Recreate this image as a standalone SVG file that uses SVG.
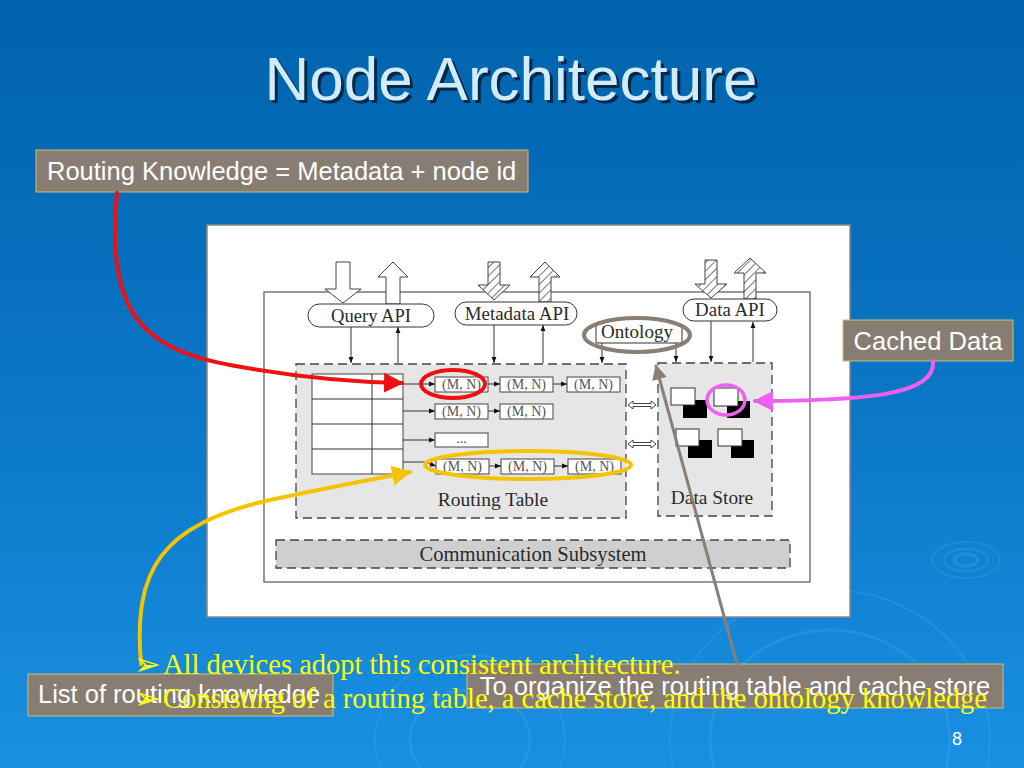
<svg xmlns="http://www.w3.org/2000/svg" width="1024" height="768" viewBox="0 0 1024 768">
<defs>
<linearGradient id="bg" x1="0" y1="0" x2="0" y2="1">
<stop offset="0" stop-color="#0062ac"/>
<stop offset="0.55" stop-color="#0b78c8"/>
<stop offset="1" stop-color="#1a90e2"/>
</linearGradient>
<pattern id="hatch" width="6" height="6" patternUnits="userSpaceOnUse" patternTransform="rotate(45)">
<rect width="6" height="6" fill="#fff"/>
<line x1="0" y1="0" x2="0" y2="6" stroke="#555" stroke-width="1.6"/>
</pattern>
<marker id="ah" viewBox="0 0 10 10" refX="10" refY="5" markerWidth="6" markerHeight="6" orient="auto" markerUnits="userSpaceOnUse">
<path d="M0,1 L10,5 L0,9 z" fill="#111"/>
</marker>
<marker id="ahRed" viewBox="0 0 10 10" refX="9" refY="5" markerWidth="5" markerHeight="5" orient="auto">
<path d="M0,0 L10,5 L0,10 z" fill="#ee1111"/>
</marker>
<marker id="ahYel" viewBox="0 0 10 10" refX="9" refY="5" markerWidth="5" markerHeight="5" orient="auto">
<path d="M0,0 L10,5 L0,10 z" fill="#f5c400"/>
</marker>
<marker id="ahPink" viewBox="0 0 10 10" refX="9" refY="5" markerWidth="5" markerHeight="5" orient="auto">
<path d="M0,0 L10,5 L0,10 z" fill="#f060f0"/>
</marker>
<marker id="ahGray" viewBox="0 0 10 10" refX="9" refY="5" markerWidth="5" markerHeight="5" orient="auto">
<path d="M0,0 L10,5 L0,10 z" fill="#8a7f74"/>
</marker>
<style>
.lbl{fill:#877d73;stroke:#c8c070;stroke-width:1}
.lt{font-family:"Liberation Sans",Arial,sans-serif;font-size:25.5px;fill:#fff}
.dt{font-family:"Liberation Serif","Times New Roman",serif;fill:#2a2a2a}
.mn{font-family:"Liberation Serif","Times New Roman",serif;font-size:14px;fill:#555}
.box{fill:#fff;stroke:#444;stroke-width:1}
.ln{stroke:#333;stroke-width:1;fill:none}
.dash{stroke:#444;stroke-width:1.3;stroke-dasharray:9,5}
.pill{fill:#fff;stroke:#333;stroke-width:1}
.bul{font-family:"Liberation Serif","Times New Roman",serif;font-size:28.5px;fill:#ffff00}
.bg{font-family:"DejaVu Sans",sans-serif;font-size:32px;fill:#ffff00}
.blk{fill:#000}
.wh{fill:#fff;stroke:#333;stroke-width:1}
.rip{fill:none;stroke:#3aa6ee;stroke-opacity:0.35}
</style>
</defs>
<rect width="1024" height="768" fill="url(#bg)"/>
<!-- ripples -->
<g id="ripples">
<ellipse class="rip" cx="966" cy="560" rx="12" ry="6" stroke-width="3"/>
<ellipse class="rip" cx="966" cy="560" rx="22" ry="11" stroke-width="2"/>
<ellipse class="rip" cx="966" cy="560" rx="34" ry="18" stroke-width="1.5"/>
<ellipse class="rip" cx="830" cy="740" rx="120" ry="110" stroke-width="3"/>
<ellipse class="rip" cx="830" cy="740" rx="160" ry="150" stroke-width="2"/>
<ellipse class="rip" cx="470" cy="740" rx="60" ry="50" stroke-width="3"/>
<ellipse class="rip" cx="470" cy="740" rx="95" ry="85" stroke-width="2"/>
</g>
<!-- title -->
<text x="514" y="103" text-anchor="middle" font-family="Liberation Sans,Arial,sans-serif" font-size="62" fill="#062848">Node Architecture</text>
<text x="511" y="100" text-anchor="middle" font-family="Liberation Sans,Arial,sans-serif" font-size="62" fill="#d2ecff">Node Architecture</text>

<!-- diagram panel -->
<g id="panel">
<rect x="207" y="225" width="643" height="392" fill="#fff" stroke="#888" stroke-width="1.5"/>
<rect x="264" y="292" width="546" height="290" fill="none" stroke="#555" stroke-width="1.2"/>
</g>

<!-- big I/O arrows -->
<g id="io-arrows" stroke="#444" stroke-width="1">
<path d="M336,262 H350 V289 H361 L343,303 L325,289 H336 Z" fill="#fff"/>
<path d="M386,304 V277 H378 L393,262 L408,277 H400 V304 Z" fill="#fff"/>
<path d="M488,262 H500 V285 H510 L494,300 L478,285 H488 Z" fill="url(#hatch)"/>
<path d="M539,302 V277 H530 L545,262 L560,277 H551 V302 Z" fill="url(#hatch)"/>
<path d="M705,260 H717 V284 H727 L711,298 L695,284 H705 Z" fill="url(#hatch)"/>
<path d="M744,299 V273 H734 L750,258 L766,273 H756 V299 Z" fill="url(#hatch)"/>
</g>

<!-- APIs -->
<g id="query-api">
<rect class="pill" x="308" y="304" width="126" height="23" rx="11.5"/>
<text class="dt" x="371" y="322" font-size="18.6" text-anchor="middle">Query API</text>
</g>
<g id="metadata-api">
<rect class="pill" x="455" y="302" width="122" height="23" rx="11.5"/>
<text class="dt" x="517" y="320" font-size="18.9" text-anchor="middle">Metadata API</text>
</g>
<g id="data-api">
<rect class="pill" x="683" y="299" width="94" height="22" rx="11"/>
<text class="dt" x="730" y="316" font-size="18.9" text-anchor="middle">Data API</text>
</g>
<g id="ontology">
<path class="ln" d="M596,324 V343 M596,343 H682 M682,324 V343" stroke="#444"/>
<text class="dt" x="637" y="338" font-size="19" text-anchor="middle">Ontology</text>
</g>

<!-- routing table -->
<g id="routing-table">
<rect x="296" y="364" width="330" height="154" fill="#e6e6e6" class="dash"/>
<rect class="box" x="312" y="374" width="91" height="100"/>
<path class="ln" d="M372,374 V474 M312,399 H403 M312,424 H403 M312,449 H403"/>
<text class="dt" x="493" y="506" font-size="19.5" text-anchor="middle">Routing Table</text>
<rect class="box" x="435" y="377" width="53" height="15"/><text class="mn" x="461.5" y="389" text-anchor="middle">(M, N)</text>
<rect class="box" x="500" y="377" width="53" height="15"/><text class="mn" x="526.5" y="389" text-anchor="middle">(M, N)</text>
<rect class="box" x="567" y="377" width="53" height="15"/><text class="mn" x="593.5" y="389" text-anchor="middle">(M, N)</text>
<rect class="box" x="435" y="404" width="53" height="15"/><text class="mn" x="461.5" y="416" text-anchor="middle">(M, N)</text>
<rect class="box" x="500" y="404" width="53" height="15"/><text class="mn" x="526.5" y="416" text-anchor="middle">(M, N)</text>
<rect class="box" x="435" y="433" width="53" height="14"/><text class="mn" x="461.5" y="443" text-anchor="middle" font-size="11">...</text>
<rect class="box" x="436" y="459" width="53" height="15"/><text class="mn" x="462.5" y="471" text-anchor="middle">(M, N)</text>
<rect class="box" x="501" y="459" width="53" height="15"/><text class="mn" x="527.5" y="471" text-anchor="middle">(M, N)</text>
<rect class="box" x="568" y="459" width="53" height="15"/><text class="mn" x="594.5" y="471" text-anchor="middle">(M, N)</text>
</g>

<!-- data store -->
<g id="data-store">
<rect x="658" y="363" width="114" height="153" fill="#e6e6e6" class="dash"/>
<rect class="blk" x="683" y="400" width="24" height="18"/><rect class="wh" x="671" y="388" width="24" height="17"/>
<rect class="blk" x="727" y="401" width="23" height="17"/><rect class="wh" x="714" y="388" width="24" height="18"/>
<rect class="blk" x="688" y="440" width="24" height="18"/><rect class="wh" x="676" y="429" width="23" height="17"/>
<rect class="blk" x="731" y="440" width="23" height="18"/><rect class="wh" x="718" y="429" width="24" height="17"/>
<text class="dt" x="712" y="504" font-size="19.4" text-anchor="middle">Data Store</text>
</g>

<!-- communication subsystem -->
<g id="comm">
<rect x="276" y="540" width="514" height="28" fill="#cfcfcf" class="dash"/>
<text class="dt" x="533" y="561" font-size="20.6" text-anchor="middle">Communication Subsystem</text>
</g>

<!-- internal connectors -->
<g id="connectors" class="ln">
<line x1="351" y1="327" x2="351" y2="363" marker-end="url(#ah)"/>
<line x1="398" y1="363" x2="398" y2="327" marker-end="url(#ah)"/>
<line x1="494" y1="325" x2="494" y2="363" marker-end="url(#ah)"/>
<line x1="543" y1="363" x2="543" y2="325" marker-end="url(#ah)"/>
<line x1="711" y1="321" x2="711" y2="362" marker-end="url(#ah)"/>
<line x1="753" y1="362" x2="753" y2="322" marker-end="url(#ah)"/>
<line x1="602" y1="343" x2="602" y2="363" marker-end="url(#ah)"/>
<line x1="676" y1="343" x2="676" y2="362" marker-end="url(#ah)"/>
<line x1="403" y1="384" x2="435" y2="384" marker-end="url(#ah)"/>
<line x1="488" y1="384" x2="500" y2="384" marker-end="url(#ah)"/>
<line x1="553" y1="384" x2="567" y2="384" marker-end="url(#ah)"/>
<line x1="403" y1="411" x2="435" y2="411" marker-end="url(#ah)"/>
<line x1="488" y1="411" x2="500" y2="411" marker-end="url(#ah)"/>
<line x1="403" y1="440" x2="435" y2="440" marker-end="url(#ah)"/>
<path d="M403,462 H424 L436,466" marker-end="url(#ah)"/>
<line x1="489" y1="466" x2="501" y2="466" marker-end="url(#ah)"/>
<line x1="554" y1="466" x2="568" y2="466" marker-end="url(#ah)"/>
<path d="M628,405 l5,-4 v2.5 h18 v-2.5 l5,4 l-5,4 v-2.5 h-18 v2.5 z" fill="#fff" stroke="#444"/>
<path d="M628,444 l5,-4 v2.5 h18 v-2.5 l5,4 l-5,4 v-2.5 h-18 v2.5 z" fill="#fff" stroke="#444"/>
</g>

<!-- annotation highlights -->
<g id="highlights" fill="none" stroke-width="4">
<ellipse cx="453" cy="384" rx="32" ry="14" stroke="#ee1111"/>
<ellipse cx="528" cy="465" rx="103" ry="14" stroke="#f5c400"/>
<ellipse cx="637" cy="335" rx="53" ry="17" stroke="#8a7f74"/>
<ellipse cx="726" cy="400" rx="19" ry="15" stroke="#f060f0" stroke-width="3.5"/>
</g>

<!-- label boxes -->
<g id="label-routing-knowledge">
<rect class="lbl" x="36" y="150" width="492" height="42"/>
<text class="lt" x="47" y="180">Routing Knowledge = Metadata + node id</text>
</g>
<g id="label-cached-data">
<rect class="lbl" x="843" y="320" width="170" height="41"/>
<text class="lt" x="928" y="350" text-anchor="middle">Cached Data</text>
</g>
<g id="label-list">
<rect class="lbl" x="28" y="674" width="305" height="42"/>
<text class="lt" x="38" y="703">List of routing knowledge</text>
</g>
<g id="label-organize">
<rect class="lbl" x="467" y="664" width="536" height="44"/>
<text class="lt" x="735" y="695" text-anchor="middle">To organize the routing table and cache store</text>
</g>

<!-- annotation arrows -->
<g id="annotation-arrows" fill="none" stroke-width="4" stroke-linecap="round">
<path d="M117,193 C108,300 130,347 230,365 C300,378 350,382 402,383" stroke="#ee1111" marker-end="url(#ahRed)"/>
<path d="M141,664 C133,570 160,525 270,500 C330,487 380,478 410,472" stroke="#f5c400" marker-end="url(#ahYel)"/>
<path d="M933,361 C936,392 880,401 755,401" stroke="#f060f0" marker-end="url(#ahPink)"/>
<line x1="737" y1="664" x2="656" y2="366" stroke="#8a7f74" stroke-width="3" marker-end="url(#ahGray)"/>
</g>

<!-- bullet text -->
<g id="bullets">
<text class="bg" x="134" y="675">➢</text>
<text class="bul" x="163" y="674">All devices adopt this consistent architecture.</text>
<text class="bg" x="134" y="709">➢</text>
<text class="bul" x="163" y="708">Consisting of a routing table, a cache store, and the ontology knowledge</text>
</g>
<text x="957" y="745" font-family="Liberation Sans,Arial,sans-serif" font-size="18" fill="#fff" text-anchor="middle">8</text>
</svg>
